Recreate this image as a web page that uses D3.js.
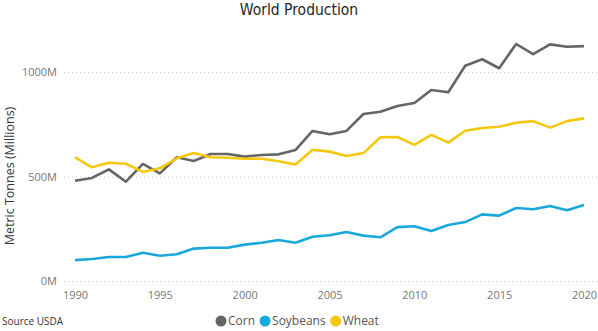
<!DOCTYPE html>
<html>
<head>
<meta charset="utf-8">
<script src="https://cdn.jsdelivr.net/npm/d3@7"></script>
<style>
  body { margin: 0; background: #fff; }
  svg { display: block; }
</style>
</head>
<body>
<div id="chart"></div>
<script>
// world production, millions of metric tonnes
var years = d3.range(1990, 2021)
var corn = [480, 493, 534, 475, 560, 515, 592, 574, 608, 608, 595, 603, 606, 627, 718,
  702, 718, 799, 810, 837, 852, 914, 903, 1030, 1061, 1018, 1134, 1085, 1132, 1121, 1124]
var soybeans = [100, 105, 115, 115, 135, 121, 128, 155, 159, 159, 174, 183, 196, 183, 212,
  219, 234, 217, 209, 258, 262, 239, 268, 282, 319, 313, 349, 343, 359, 338, 364]
var wheat = [592, 544, 566, 561, 522, 539, 587, 612, 592, 590, 585, 585, 573, 557, 628,
  619, 598, 612, 688, 689, 651, 699, 662, 719, 732, 738, 757, 765, 734, 765, 778]
var yTicks = [0, 500, 1000]
var xTicks = [1990, 1995, 2000, 2005, 2010, 2015, 2020]

var series = [
  {name: "Corn", values: corn, color: "#656565"},
  {name: "Soybeans", values: soybeans, color: "#1AA8DC"},
  {name: "Wheat", values: wheat, color: "#F4C80D"}
]

var width = 598
var height = 331

var svg = d3.select("#chart")
  .append("svg")
  .attr("width", width)
  .attr("height", height)

var x = d3.scaleLinear().domain([1990, 2020]).range([75, 584])
var y = d3.scaleLinear().domain([0, 1000]).range([281, 72])

svg.append("text")
  .attr("x", 299)
  .attr("y", 15)
  .attr("text-anchor", "middle")
  .attr("font-family", "'DejaVu Sans Condensed', sans-serif")
  .attr("font-size", 15.5)
  .attr("fill", "#252423")
  .text("World Production")

// gridlines + y labels
var yAxis = svg.append("g")
  .attr("transform", "translate(64,0)")
  .call(d3.axisRight(y).tickValues(yTicks).tickSize(534).tickFormat(function(d) { return d + "M" }))
yAxis.select(".domain").remove()
yAxis.selectAll("line")
  .attr("stroke", "#c8c8c8")
  .attr("stroke-dasharray", "1,3")
yAxis.selectAll("text")
  .attr("x", -7)
  .attr("dy", "0.35em")
  .attr("text-anchor", "end")
  .attr("font-family", "'Open Sans', sans-serif")
  .attr("font-size", 11)
  .attr("fill", "#777")

var xAxis = svg.append("g")
  .attr("transform", "translate(0,281)")
  .call(d3.axisBottom(x).tickValues(xTicks).tickSize(0).tickFormat(d3.format("d")))
xAxis.select(".domain").remove()
xAxis.selectAll("text")
  .attr("y", 10)
  .attr("dy", "0.71em")
  .attr("font-family", "'Open Sans', sans-serif")
  .attr("font-size", 11)
  .attr("fill", "#777")

svg.append("text")
  .attr("transform", "translate(14,176) rotate(-90)")
  .attr("text-anchor", "middle")
  .attr("font-family", "'Open Sans', sans-serif")
  .attr("font-size", 12.5)
  .attr("fill", "#333")
  .text("Metric Tonnes (Millions)")

var line = d3.line()
  .x(function(d, i) { return x(years[i]) })
  .y(function(d) { return y(d) })

svg.append("g").selectAll("path")
  .data(series)
  .enter().append("path")
    .attr("fill", "none")
    .attr("stroke", function(d) { return d.color })
    .attr("stroke-width", 2.6)
    .attr("stroke-linejoin", "round")
    .attr("d", function(d) { return line(d.values) })

svg.append("text")
  .attr("x", 2)
  .attr("y", 325)
  .attr("font-family", "'Open Sans', sans-serif")
  .attr("font-size", 10)
  .attr("fill", "#333")
  .text("Source USDA")

// legend
var legend = svg.append("g").attr("transform", "translate(221,321)")
var lx = 0
series.forEach(function(s) {
  var g = legend.append("g").attr("transform", "translate(" + lx + ",0)")
  g.append("circle").attr("cx", 0).attr("cy", 0).attr("r", 5.5).attr("fill", s.color)
  var t = g.append("text")
    .attr("x", 7)
    .attr("dy", "0.35em")
    .attr("font-family", "'Open Sans', sans-serif")
    .attr("font-size", 12)
    .attr("fill", "#555")
    .text(s.name)
  lx += 7 + t.node().getComputedTextLength() + 10
})
</script>
</body>
</html>
